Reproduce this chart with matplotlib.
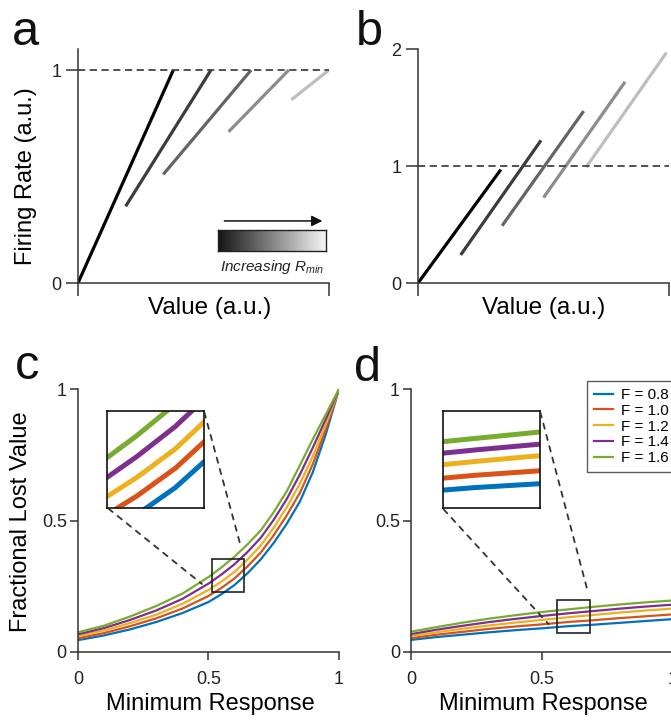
import numpy as np
import matplotlib
matplotlib.use('Agg')
import matplotlib.pyplot as plt
from matplotlib.patches import Rectangle, ConnectionPatch

plt.rcParams['font.family'] = ['Liberation Sans', 'DejaVu Sans']
plt.rcParams['mathtext.fontset'] = 'custom'
plt.rcParams['mathtext.it'] = 'Liberation Sans:italic'
plt.rcParams['mathtext.rm'] = 'Liberation Sans'

# panel a: firing rate lines for increasing Rmin (start / end points)
a_x0 = [0.0, 0.19, 0.34, 0.60, 0.85]
a_y0 = [0.0, 0.36, 0.51, 0.71, 0.86]
a_x1 = [0.38, 0.53, 0.69, 0.84, 1.0]
a_y1 = [1.0, 1.0, 1.0, 1.0, 1.0]

# panel b
b_x0 = [0.0, 0.17, 0.335, 0.50, 0.67]
b_y0 = [0.0, 0.24, 0.49, 0.73, 0.99]
b_x1 = [0.33, 0.49, 0.66, 0.825, 0.99]
b_y1 = [0.97, 1.22, 1.47, 1.72, 1.97]

grays = ['#000000', '#3c3c3c', '#646464', '#8c8c8c', '#bebebe']

# panel c: fractional lost value vs minimum response
c_x = [0, 0.1, 0.2, 0.3, 0.4, 0.5, 0.55, 0.6, 0.65, 0.7, 0.75, 0.8, 0.85, 0.9, 0.95, 1.0]
c_f08 = [0.045, 0.063, 0.086, 0.114, 0.148, 0.190, 0.220, 0.255, 0.300, 0.352, 0.415, 0.488, 0.572, 0.685, 0.830, 1.0]
c_f10 = [0.052, 0.072, 0.098, 0.128, 0.165, 0.213, 0.244, 0.280, 0.326, 0.378, 0.444, 0.520, 0.605, 0.715, 0.850, 1.0]
c_f12 = [0.060, 0.082, 0.110, 0.142, 0.183, 0.236, 0.268, 0.305, 0.352, 0.405, 0.473, 0.551, 0.640, 0.745, 0.868, 1.0]
c_f14 = [0.067, 0.091, 0.122, 0.158, 0.202, 0.260, 0.295, 0.334, 0.381, 0.434, 0.503, 0.582, 0.675, 0.778, 0.887, 1.0]
c_f16 = [0.075, 0.100, 0.135, 0.175, 0.222, 0.285, 0.322, 0.363, 0.410, 0.462, 0.532, 0.612, 0.710, 0.810, 0.905, 1.0]

# panel d
d_x = [0, 0.1, 0.2, 0.3, 0.4, 0.5, 0.6, 0.7, 0.8, 0.9, 1.0]
d_f08 = [0.046, 0.057, 0.066, 0.075, 0.083, 0.090, 0.098, 0.104, 0.111, 0.118, 0.125]
d_f10 = [0.053, 0.066, 0.077, 0.088, 0.097, 0.105, 0.114, 0.121, 0.129, 0.136, 0.143]
d_f12 = [0.060, 0.075, 0.089, 0.101, 0.112, 0.122, 0.132, 0.141, 0.150, 0.158, 0.165]
d_f14 = [0.068, 0.085, 0.100, 0.114, 0.126, 0.137, 0.147, 0.156, 0.165, 0.173, 0.180]
d_f16 = [0.077, 0.095, 0.112, 0.127, 0.140, 0.152, 0.162, 0.172, 0.181, 0.189, 0.196]

f_labels = ['F = 0.8', 'F = 1.0', 'F = 1.2', 'F = 1.4', 'F = 1.6']
f_colors = ['#0072BD', '#D95319', '#EDB120', '#7E2F8E', '#77AC30']

c_box = [0.512, 0.637, 0.229, 0.354]
d_box = [0.558, 0.684, 0.071, 0.198]

spine_col = '#333333'

fig = plt.figure(figsize=(6.71, 7.22), dpi=100)


def style_axes(ax, ticklen, xpad, ypad):
    ax.spines['top'].set_visible(False)
    ax.spines['right'].set_visible(False)
    for s in ['left', 'bottom']:
        ax.spines[s].set_color(spine_col)
        ax.spines[s].set_linewidth(1.1)
    ax.tick_params(direction='out', length=ticklen, width=1.1, color=spine_col,
                   labelsize=13, labelcolor='#222222')
    ax.tick_params(axis='x', pad=xpad)
    ax.tick_params(axis='y', pad=ypad)


# ---- a ----
ax_a = fig.add_axes([0.1162, 0.608, 0.374, 0.3245])
for i in range(5):
    ax_a.plot([a_x0[i], a_x1[i]], [a_y0[i], a_y1[i]], color=grays[i], lw=2.3,
              solid_capstyle='butt')
ax_a.axhline(1, color='#444444', lw=1.3, ls=(0, (4, 2.5)))
ax_a.set_xlim(0, 1)
ax_a.set_ylim(0, 1.1)
ax_a.set_xticks([0, 1])
ax_a.set_xticklabels([])
ax_a.set_yticks([0, 1])
ax_a.set_yticklabels(['0', '1'])
style_axes(ax_a, 9, 4, 3)
ax_a.set_ylabel('Firing Rate (a.u.)', fontsize=17)
ax_a.yaxis.set_label_coords(-0.165, 0.4545)
ax_a.set_xlabel('Value (a.u.)', fontsize=17.5)
ax_a.xaxis.set_label_coords(0.526, -0.058)

# gradient key for Rmin
gax = ax_a.inset_axes([0.558, 0.137, 0.430, 0.0896])
gax.imshow(np.linspace(0.08, 0.96, 256).reshape(1, -1), cmap='gray', aspect='auto',
           vmin=0, vmax=1)
gax.set_xticks([])
gax.set_yticks([])
for s in gax.spines.values():
    s.set_color('#222222')
    s.set_linewidth(1.0)
ax_a.annotate('', xy=(0.985, 0.265), xytext=(0.572, 0.265), xycoords='axes fraction',
              arrowprops=dict(arrowstyle='-|>', color='#111111', lw=1.1, mutation_scale=16))
ax_a.text(0.773, 0.068, r'Increasing $R_{min}$', transform=ax_a.transAxes,
          fontsize=11, style='italic', ha='center', va='center', color='#222222')

# ---- b ----
ax_b = fig.add_axes([0.623, 0.608, 0.374, 0.324])
for i in range(5):
    ax_b.plot([b_x0[i], b_x1[i]], [b_y0[i], b_y1[i]], color=grays[i], lw=2.3,
              solid_capstyle='butt')
ax_b.axhline(1, color='#444444', lw=1.3, ls=(0, (4, 2.5)))
ax_b.set_xlim(0, 1)
ax_b.set_ylim(0, 2)
ax_b.set_xticks([0, 1])
ax_b.set_xticklabels([])
ax_b.set_yticks([0, 1, 2])
ax_b.set_yticklabels(['0', '1', '2'])
style_axes(ax_b, 9, 4, 3)
ax_b.set_xlabel('Value (a.u.)', fontsize=17.5)
ax_b.xaxis.set_label_coords(0.5, -0.058)


def zoom_panel(ax, xs, series, box, inset_rect):
    for ys, col in zip(series, f_colors):
        ax.plot(xs, ys, color=col, lw=1.6)
    ax.set_xlim(0, 1)
    ax.set_ylim(0, 1)
    ax.set_xticks([0, 0.5, 1])
    ax.set_xticklabels(['0', '0.5', '1'])
    ax.set_yticks([0, 0.5, 1])
    ax.set_yticklabels(['0', '0.5', '1'])
    style_axes(ax, 6, 8, 2)
    ax.set_xlabel('Minimum Response', fontsize=17)
    ax.xaxis.set_label_coords(0.506, -0.155)

    x0, x1, y0, y1 = box
    ax.add_patch(Rectangle((x0, y0), x1 - x0, y1 - y0, fill=False,
                           edgecolor='#222222', lw=1.2, zorder=5))
    ins = fig.add_axes(inset_rect)
    for ys, col in zip(series, f_colors):
        ins.plot(xs, ys, color=col, lw=3.6)
    ins.set_xlim(x0, x1)
    ins.set_ylim(y0, y1)
    ins.set_xticks([])
    ins.set_yticks([])
    for s in ins.spines.values():
        s.set_color('#111111')
        s.set_linewidth(1.2)
    # dashed connectors from inset corners to the zoom box
    for ca, cb in [((0, 0), (x0, y0)), ((1, 1), (x1, y1))]:
        con = ConnectionPatch(xyA=ca, coordsA=ins.transAxes, xyB=cb, coordsB=ax.transData,
                              color='#333333', lw=1.3, ls=(0, (3, 3.5)), shrinkA=1, shrinkB=9)
        fig.add_artist(con)
    return ins


# ---- c ----
ax_c = fig.add_axes([0.1162, 0.097, 0.389, 0.364])
zoom_panel(ax_c, c_x, [c_f08, c_f10, c_f12, c_f14, c_f16], c_box,
           [0.160, 0.2968, 0.144, 0.134])
ax_c.set_ylabel('Fractional Lost Value', fontsize=17)
ax_c.yaxis.set_label_coords(-0.176, 0.495)

# ---- d ---- (axis runs past the right edge of the figure, as in the original)
ax_d = fig.add_axes([0.6125, 0.097, 0.390, 0.364])
zoom_panel(ax_d, d_x, [d_f08, d_f10, d_f12, d_f14, d_f16], d_box,
           [0.6597, 0.296, 0.145, 0.135])
leg = ax_d.legend(ax_d.lines[:5], f_labels, loc='upper left', bbox_to_anchor=(0.8748, 0.4723),
                  bbox_transform=fig.transFigure, fontsize=11, frameon=True, fancybox=False,
                  handlelength=1.25, handletextpad=0.5, labelspacing=0.12, borderpad=0.45,
                  borderaxespad=0)
leg.get_frame().set_edgecolor('#333333')
leg.get_frame().set_linewidth(1.0)

# panel letters
for lab, x, y in [('a', 0.018, 0.938), ('b', 0.530, 0.938), ('c', 0.022, 0.475), ('d', 0.527, 0.472)]:
    fig.text(x, y, lab, fontsize=35, va='baseline', ha='left', color='#111111')

fig.savefig('out.png', dpi=100)
